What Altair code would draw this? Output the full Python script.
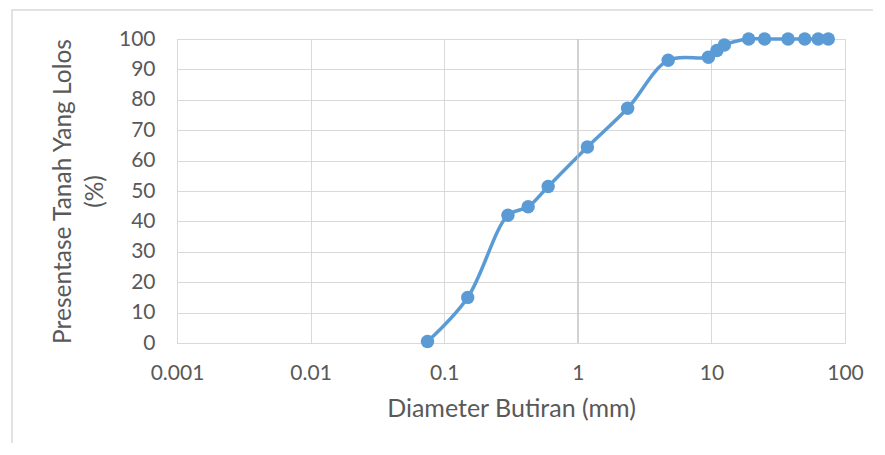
import altair as alt
import pandas as pd

diameter = [0.075, 0.15, 0.3, 0.425, 0.6, 1.18, 2.36, 4.75, 9.5, 11.0, 12.5, 19.0, 25.0, 37.5, 50.0, 63.0, 75.0]
lolos = [0.5, 15.0, 42.0, 44.8, 51.5, 64.5, 77.2, 93.0, 94.0, 96.2, 98.0, 100.0, 100.0, 100.0, 100.0, 100.0, 100.0]
x_ticks = [0.001, 0.01, 0.1, 1, 10, 100]
y_ticks = [0, 10, 20, 30, 40, 50, 60, 70, 80, 90, 100]

df = pd.DataFrame({"d": diameter, "p": lolos})

FONT = "Lato"
TXT = "#595959"
BLUE = "#5b9bd5"

xs = alt.Scale(type="log", domain=[0.001, 100], nice=False)
ys = alt.Scale(domain=[0, 100], nice=False)

x_axis = alt.Axis(
    values=x_ticks, format="~g", title="Diameter Butiran (mm)",
    grid=True, gridColor="#d9d9d9", ticks=False,
    domain=True, domainColor="#d9d9d9", labelOverlap=False,
    labelFontSize=21, labelColor=TXT, labelFont=FONT, labelPadding=19,
    titleFontSize=25, titleFontWeight="normal", titleColor=TXT, titleFont=FONT,
    titlePadding=13, labelFlush=False,
)
y_axis = alt.Axis(
    values=y_ticks, title=["Presentase Tanah Yang Lolos", "(%)"],
    grid=True, gridColor="#d9d9d9", ticks=False, domain=False, labelOverlap=False,
    labelFontSize=21, labelColor=TXT, labelFont=FONT, labelPadding=22,
    titleFontSize=24.5, titleFontWeight="normal", titleColor=TXT, titleFont=FONT,
    titlePadding=11, titleLineHeight=32,
)

x_enc = alt.X("d:Q", scale=xs, axis=x_axis)
y_enc = alt.Y("p:Q", scale=ys, axis=y_axis)

base = alt.Chart(df)
frame = alt.Chart(pd.DataFrame({"k": [0]})).mark_rect(
    fill=None, stroke="#d9d9d9", strokeWidth=1.5, clip=False
).encode(x=alt.value(-165), x2=alt.value(720), y=alt.value(-29), y2=alt.value(430))
axis_rule = alt.Chart(pd.DataFrame({"v": [1]})).mark_rule(color="#bfbfbf", strokeWidth=1).encode(
    x=alt.X("v:Q", scale=xs, axis=x_axis)
)
line = base.mark_line(color=BLUE, strokeWidth=3.5, interpolate="catmull-rom").encode(x=x_enc, y=y_enc)
pts = base.mark_point(filled=True, color=BLUE, size=180, opacity=1, shape="circle").encode(x=x_enc, y=y_enc)

chart = alt.layer(frame, line, axis_rule, pts).properties(
    width=668, height=304,
    autosize=alt.AutoSizeParams(type="none"),
    padding={"left": 169, "top": 31, "right": 28, "bottom": 100},
).configure_view(stroke=None).configure(background="white")

chart.save("out.html", embed_options={"renderer": "svg", "actions": False})
